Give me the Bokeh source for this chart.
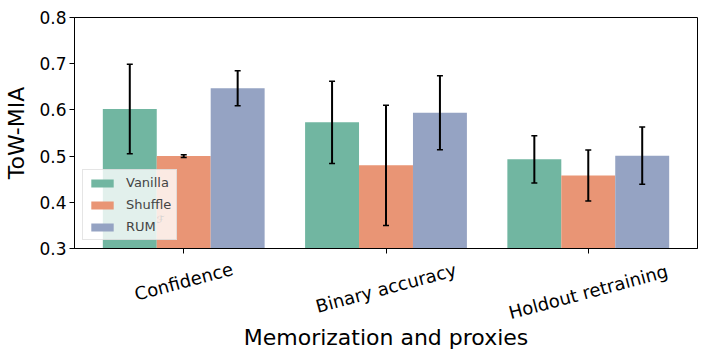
import math
from bokeh.plotting import figure
from bokeh.layouts import column
from bokeh.models import (Whisker, ColumnDataSource, FixedTicker, Legend, LegendItem, Label,
                          TeeHead, Range1d)
from bokeh.core.properties import value
from bokeh.embed import file_html
from bokeh.resources import INLINE

categories = ["Confidence", "Binary accuracy", "Holdout retraining"]
series = ["Vanilla", "Shuffle", "RUM"]
vanilla = [0.602, 0.573, 0.493]
vanilla_err = [0.097, 0.089, 0.051]
shuffle = [0.500, 0.480, 0.458]
shuffle_err = [0.003, 0.130, 0.055]
rum = [0.647, 0.594, 0.501]
rum_err = [0.038, 0.080, 0.062]
colors = ["#71b6a1", "#e99575", "#95a3c3"]
y_ticks = [0.3, 0.4, 0.5, 0.6, 0.7, 0.8]

FONT = "DejaVu Sans"
W, LEFT, RIGHT = 706, 74, 9
H1, B1 = 258, 10
x_range = Range1d(-0.54, 2.54)

p = figure(width=W, height=H1, output_backend="svg", toolbar_location=None,
           x_range=x_range, y_range=(0.3, 0.8),
           min_border_left=LEFT, min_border_right=RIGHT, min_border_top=17, min_border_bottom=B1)
p.xgrid.visible = False
p.ygrid.visible = False
p.outline_line_color = "black"
p.outline_line_width = 1

bw = 0.8 / 3
renderers = []
for i, (vals, errs) in enumerate([(vanilla, vanilla_err), (shuffle, shuffle_err), (rum, rum_err)]):
    xs = [g + (i - 1) * bw for g in range(len(categories))]
    src = ColumnDataSource(dict(x=xs, top=vals,
                                lo=[v - e for v, e in zip(vals, errs)],
                                hi=[v + e for v, e in zip(vals, errs)]))
    r = p.vbar(x="x", top="top", bottom=0.3, width=bw, source=src,
               fill_color=colors[i], line_color=None)
    renderers.append(r)
    w = Whisker(base="x", upper="hi", lower="lo", source=src, level="annotation",
                line_color="black", line_width=2,
                upper_head=TeeHead(size=6, line_color="black", line_width=1.5),
                lower_head=TeeHead(size=6, line_color="black", line_width=1.5))
    p.add_layout(w)

p.xaxis.ticker = FixedTicker(ticks=list(range(len(categories))))
p.xaxis.major_label_overrides = {i: "" for i in range(len(categories))}
p.xaxis.major_label_standoff = 0
p.xaxis.major_label_text_font_size = "0px"
p.yaxis.ticker = FixedTicker(ticks=y_ticks)
p.yaxis.major_label_overrides = {t: f"{t:.1f}" for t in y_ticks}
p.yaxis.major_label_text_font_size = "17px"

for ax in (p.xaxis[0], p.yaxis[0]):
    ax.axis_line_color = "black"
    ax.major_tick_line_color = "black"
    ax.major_tick_out = 5
    ax.major_tick_in = 0
    ax.minor_tick_line_color = None
    ax.major_label_text_font = FONT
    ax.major_label_text_color = "black"

p.yaxis.axis_label = "ToW-MIA"
p.yaxis.axis_label_text_font = FONT
p.yaxis.axis_label_text_font_size = "22px"
p.yaxis.axis_label_text_font_style = "normal"
p.yaxis.axis_label_text_color = "black"
p.yaxis.major_label_standoff = 3
p.yaxis.axis_label_standoff = 7

legend = Legend(items=[LegendItem(label=s, renderers=[r]) for s, r in zip(series, renderers)],
                location="bottom_left", label_text_font=FONT, label_text_font_size="13px",
                glyph_width=28, glyph_height=10, label_height=15, spacing=7,
                label_standoff=10, padding=5, margin=8, background_fill_alpha=0.8,
                border_line_color="#cccccc", border_line_width=1)
p.add_layout(legend)

sup = Label(x=82, y=29, x_units="screen", y_units="screen", text="ℱ", level="overlay",
            text_baseline="alphabetic",
            text_font=FONT, text_font_size="10px", text_font_style="italic", text_color="black")
p.add_layout(sup)

# lower strip: rotated category tick labels (centred on ticks) and x-axis title
H2, B2 = 358 - H1, 37
fh = H2 - B2
p2 = figure(width=W, height=H2, output_backend="svg", toolbar_location=None,
            x_range=x_range, y_range=Range1d(fh, 0), y_axis_location=None,
            min_border_left=LEFT, min_border_right=RIGHT, min_border_top=0, min_border_bottom=B2)
p2.xgrid.visible = False
p2.ygrid.visible = False
p2.outline_line_color = None
p2.xaxis.ticker = FixedTicker(ticks=[])
p2.xaxis.axis_line_color = None
p2.xaxis.major_tick_line_color = None
p2.xaxis.minor_tick_line_color = None
p2.xaxis.major_tick_out = 0
p2.xaxis.major_label_standoff = 0
p2.xaxis.axis_label = "Memorization and proxies"
p2.xaxis.axis_label_text_font = FONT
p2.xaxis.axis_label_text_font_size = "22px"
p2.xaxis.axis_label_text_font_style = "normal"
p2.xaxis.axis_label_text_color = "black"
p2.xaxis.axis_label_standoff = 3

ang = math.radians(15)
label_y = [0.5 * (len(c) * 10.0 * math.sin(ang) + 20) for c in categories]
p2.text(x=list(range(len(categories))), y=label_y, text=categories, angle=ang,
        text_align="center", text_baseline="middle", text_font=value(FONT),
        text_font_size="18px", text_color="black")

open("out.html", "w").write(file_html(column(p, p2), INLINE))
